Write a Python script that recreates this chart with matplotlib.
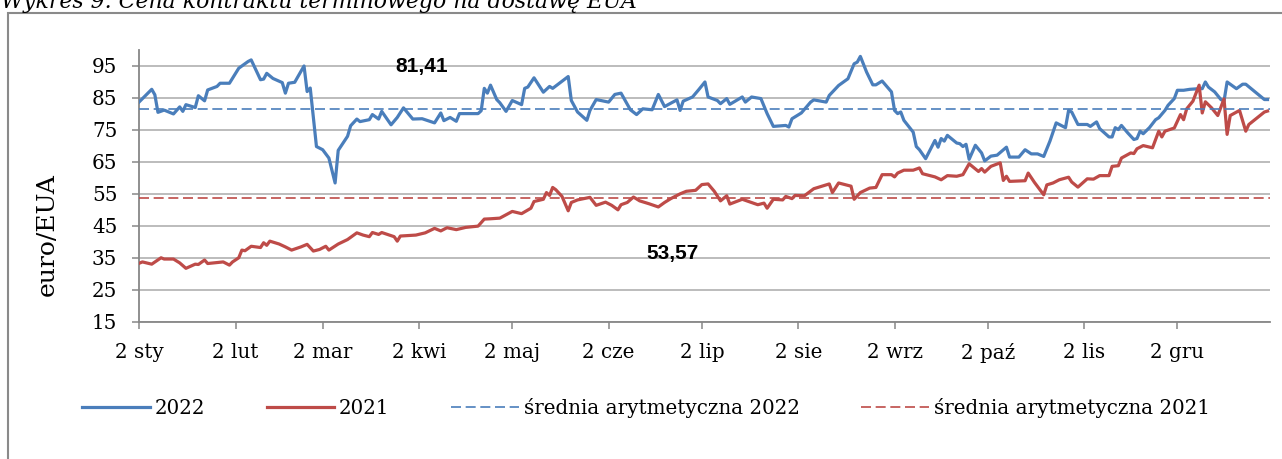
import datetime as dt
import matplotlib
matplotlib.use("Agg")
import matplotlib.pyplot as plt
import matplotlib.dates as mdates
from matplotlib.patches import Rectangle

# ---------------- data ----------------
# day number counted from 2 January (0 = 2 Jan)
days_2022 = [0, 4, 5, 6, 8, 11, 13, 14, 15, 18, 19, 21, 22, 25, 26, 29, 32, 35, 36, 39,
             40, 41, 43, 46, 47, 48, 50, 53, 54, 55, 57, 59, 61, 63, 64, 67, 68, 70, 71, 74,
             75, 77, 78, 81, 83, 85, 88, 91, 95, 97, 98, 100, 102, 103, 109, 110, 111, 112, 113, 115,
             116, 118, 120, 123, 124, 125, 127, 130, 132, 133, 138, 139, 141, 144, 145, 147, 151, 153, 155, 158,
             160, 162, 165, 167, 169, 173, 174, 175, 178, 180, 182, 183, 186, 187, 189, 190, 194, 195, 197, 200,
             202, 204, 208, 209, 210, 213, 216, 217, 221, 222, 225, 228, 230, 231, 232, 234, 236, 237, 239, 242,
             243, 244, 245, 246, 249, 250, 251, 253, 256, 257, 258, 259, 260, 263, 264, 265, 266, 267, 269, 271,
             272, 274, 276, 279, 280, 283, 285, 287, 289, 291, 293, 295, 298, 299, 300, 302, 305, 306, 308, 309,
             312, 313, 314, 315, 316, 318, 320, 321, 322, 323, 325, 327, 328, 330, 331, 333, 334, 336, 338, 341,
             342, 343, 344, 346, 348, 349, 350, 353, 355, 356, 360, 362, 363]
eua_2022 = [83.8, 87.7, 86.0, 80.5, 81.2, 80.0, 82.2, 80.8, 82.9, 82.0, 85.7, 84.1, 87.5, 88.6, 89.6, 89.6, 94.3, 96.4, 96.9, 90.7,
            90.9, 92.7, 91.1, 89.8, 86.5, 89.6, 89.9, 95.0, 87.0, 88.1, 69.8, 68.8, 66.2, 58.4, 68.6, 73.0, 76.3, 78.4, 77.6, 78.2,
            79.8, 78.4, 80.8, 76.6, 78.9, 81.9, 78.4, 78.5, 77.2, 80.3, 77.9, 78.9, 77.7, 80.1, 80.1, 81.0, 88.0, 86.5, 89.0, 84.5,
            83.5, 80.8, 84.2, 82.9, 88.0, 88.4, 91.3, 86.8, 88.6, 88.0, 91.7, 84.2, 80.6, 78.0, 81.1, 84.5, 83.7, 86.1, 86.5, 81.3,
            79.8, 81.6, 81.3, 86.1, 82.3, 84.4, 81.1, 84.0, 85.3, 87.6, 90.0, 85.3, 84.2, 83.2, 84.8, 83.0, 85.3, 83.7, 85.3, 84.8,
            80.1, 76.1, 76.4, 75.9, 78.5, 80.3, 83.7, 84.4, 83.7, 85.8, 88.9, 91.0, 95.7, 96.2, 98.0, 93.1, 89.1, 89.1, 90.3, 86.9,
            81.1, 80.1, 80.6, 78.0, 74.3, 69.8, 68.8, 66.0, 71.7, 69.6, 72.3, 71.5, 73.3, 70.9, 70.7, 69.8, 70.5, 65.8, 70.2, 67.8,
            65.3, 66.8, 67.1, 69.6, 66.5, 66.5, 68.8, 67.5, 67.5, 66.7, 71.5, 77.2, 75.7, 81.1, 80.6, 76.7, 76.7, 76.1, 77.5, 75.4,
            72.8, 72.8, 75.7, 75.1, 76.4, 74.1, 72.0, 72.3, 74.6, 73.8, 75.7, 78.2, 78.8, 81.1, 82.7, 84.8, 87.4, 87.4, 87.7, 87.9,
            87.9, 90.0, 88.4, 86.9, 84.5, 84.0, 90.0, 87.9, 89.3, 89.3, 86.1, 84.5, 84.5]

days_2021 = [0, 1, 4, 7, 8, 11, 13, 15, 18, 19, 21, 22, 27, 29, 30, 32, 33, 34, 36, 39,
             40, 41, 42, 45, 47, 49, 52, 54, 56, 58, 60, 61, 64, 67, 70, 72, 74, 75, 77, 78,
             82, 83, 84, 89, 92, 95, 97, 99, 102, 105, 109, 111, 113, 116, 120, 123, 126, 127, 130, 131,
             132, 133, 134, 136, 138, 139, 141, 145, 147, 150, 152, 154, 155, 157, 159, 161, 164, 167, 169, 171,
             174, 176, 179, 181, 183, 185, 187, 189, 190, 194, 199, 201, 202, 204, 207, 208, 210, 211, 214, 217,
             222, 223, 225, 229, 230, 232, 235, 237, 239, 242, 243, 244, 246, 249, 251, 252, 256, 258, 260, 263,
             265, 267, 270, 271, 272, 274, 277, 278, 279, 280, 285, 286, 288, 291, 292, 294, 296, 299, 300, 302,
             305, 307, 309, 312, 313, 315, 316, 319, 320, 321, 323, 326, 328, 329, 330, 333, 335, 336, 337, 339,
             341, 342, 343, 345, 347, 349, 350, 351, 354, 356, 357, 362, 363]
eua_2021 = [33.3, 33.7, 33.0, 35.0, 34.6, 34.6, 33.4, 31.7, 33.0, 32.9, 34.3, 33.2, 33.7, 32.7, 33.7, 35.0, 37.4, 37.2, 38.6, 38.2,
            39.7, 38.9, 40.2, 39.3, 38.4, 37.4, 38.4, 39.2, 37.1, 37.6, 38.6, 37.4, 39.3, 40.7, 42.8, 42.1, 41.6, 42.9, 42.3, 42.9,
            41.6, 40.2, 41.8, 42.1, 42.8, 44.2, 43.4, 44.4, 43.8, 44.5, 44.9, 47.1, 47.2, 47.4, 49.5, 48.8, 50.5, 52.6, 53.3, 55.4,
            54.5, 57.0, 56.3, 54.2, 49.7, 52.3, 53.1, 53.9, 51.4, 52.4, 51.4, 50.0, 51.6, 52.3, 54.0, 52.8, 51.9, 50.9, 52.3, 53.5,
            55.0, 55.8, 56.1, 57.9, 58.1, 55.8, 52.8, 54.4, 51.8, 53.3, 51.6, 52.1, 50.5, 53.3, 53.1, 54.2, 53.5, 54.5, 54.4, 56.6,
            58.1, 55.4, 58.4, 57.4, 53.3, 55.4, 56.8, 57.0, 61.0, 61.0, 60.3, 61.5, 62.4, 62.4, 63.1, 61.3, 60.3, 59.4, 60.7, 60.5,
            61.0, 64.4, 62.0, 62.9, 61.8, 63.6, 64.7, 59.2, 60.5, 58.9, 59.1, 61.5, 58.6, 54.7, 57.8, 58.4, 59.4, 60.2, 58.7, 57.1,
            59.7, 59.6, 60.7, 60.7, 63.6, 63.8, 66.2, 67.8, 67.6, 69.1, 70.1, 69.4, 74.6, 72.8, 74.6, 75.6, 79.8, 78.2, 81.6, 84.0,
            89.0, 80.3, 83.8, 81.9, 79.5, 84.7, 73.6, 79.5, 81.1, 74.6, 76.7, 80.6, 80.9]

mean_2022 = 81.41
mean_2021 = 53.57
mean_labels = ["81,41", "53,57"]

month_labels = ["2 sty", "2 lut", "2 mar", "2 kwi", "2 maj", "2 cze",
                "2 lip", "2 sie", "2 wrz", "2 paź", "2 lis", "2 gru"]
y_ticks = [15, 25, 35, 45, 55, 65, 75, 85, 95]
series_names = ["2022", "2021", "średnia arytmetyczna 2022", "średnia arytmetyczna 2021"]
title_text = "Wykres 9. Cena kontraktu terminowego na dostawę EUA"
y_label = "euro/EUA"

# ---------------- drawing ----------------
W, H = 1282, 459
BLUE = "#4a7ebb"
RED = "#be4b48"
GREY = "#878787"
GRID = "#a9a9a9"
SERIF = ["DejaVu Serif"]

fig = plt.figure(figsize=(W / 100, H / 100), dpi=100)
fig.patch.set_facecolor("white")

ax_l, ax_r, ax_t, ax_b = 139.3, 1270.0, 50.0, 321.7
ax = fig.add_axes([ax_l / W, 1 - ax_b / H, (ax_r - ax_l) / W, (ax_b - ax_t) / H])

start = dt.date(2022, 1, 2)
x22 = [start + dt.timedelta(days=d) for d in days_2022]
x21 = [start + dt.timedelta(days=d) for d in days_2021]

ax.plot(x22, eua_2022, color=BLUE, lw=2.3, solid_joinstyle="round", zorder=3, label=series_names[0])
ax.plot(x21, eua_2021, color=RED, lw=2.3, solid_joinstyle="round", zorder=3, label=series_names[1])
ax.axhline(mean_2022, color=BLUE, lw=1.2, dashes=(6, 2.8), zorder=4, label=series_names[2])
ax.axhline(mean_2021, color=RED, lw=1.2, dashes=(6, 2.8), zorder=4, label=series_names[3])

# axes limits & ticks
x0 = mdates.date2num(start)
ax.set_xlim(x0, x0 + 363.8)
ax.set_ylim(15, 100)
ax.set_yticks(y_ticks)
ax.set_yticklabels([str(v) for v in y_ticks])
tick_dates = [dt.date(2022, m, 2) for m in range(1, 13)]
ax.set_xticks([mdates.date2num(d) for d in tick_dates])
ax.set_xticklabels(month_labels)

for lab in ax.get_xticklabels() + ax.get_yticklabels():
    lab.set_fontfamily(SERIF)
    lab.set_fontsize(14.3)
ax.tick_params(axis="both", direction="out", length=4.8, width=1.1, color=GREY, labelcolor="black")
ax.tick_params(axis="x", pad=10.5)
ax.tick_params(axis="y", pad=11)

ax.grid(axis="y", color=GRID, lw=1.1, zorder=0)
ax.set_axisbelow(True)
for side in ("top", "right"):
    ax.spines[side].set_visible(False)
for side in ("left", "bottom"):
    ax.spines[side].set_color(GREY)
    ax.spines[side].set_linewidth(1.3)

# mean value annotations
ax.text(x0 + 90.8, 94.9, mean_labels[0], ha="center", va="center",
        fontsize=15, fontweight="bold", family=["Liberation Sans"], color="black", zorder=5)
ax.text(x0 + 171.7, 36.3, mean_labels[1], ha="center", va="center",
        fontsize=15, fontweight="bold", family=["Liberation Sans"], color="black", zorder=5)

# y axis title
fig.text(47 / W, 1 - 234.5 / H, y_label, rotation=90, ha="center", va="center",
         fontsize=18, family=SERIF)

# legend
leg = fig.legend(loc="center left", bbox_to_anchor=(82 / W, 1 - 408 / H), ncol=4,
                 frameon=False, prop={"family": SERIF, "size": 14.3},
                 handlelength=3.4, handletextpad=0.25, columnspacing=3.1,
                 borderpad=0, borderaxespad=0)

# outer chart frame (partly outside the picture)
frame = Rectangle((8 / W, -0.2), 1.5, 1.2 - 13 / H, transform=fig.transFigure,
                  fill=False, edgecolor="#8a8a8a", lw=1.5)
fig.patches.append(frame)

# document caption, cut by the top edge as in the reference
fig.text(1 / W, 1 - 8 / H, title_text, ha="left", va="baseline",
         fontsize=15.8, style="italic", family=SERIF)

fig.savefig("out.png", dpi=100)
